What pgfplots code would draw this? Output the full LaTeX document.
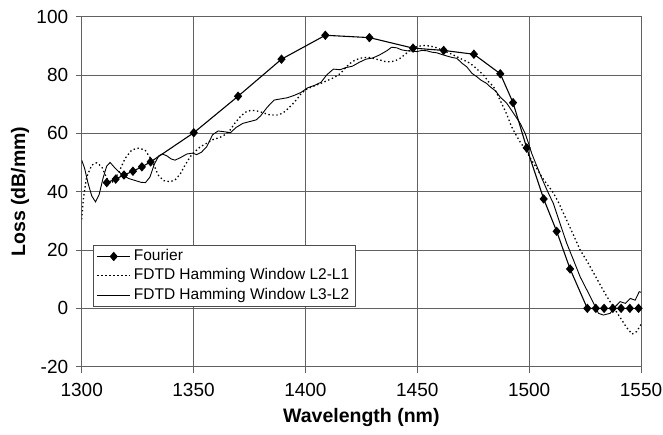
\documentclass[border=0pt]{standalone}
\usepackage{pgfplots}
\pgfplotsset{compat=1.18}
\usepackage{fontspec}
\setmainfont{Liberation Sans}
\begin{document}
\begin{tikzpicture}
\useasboundingbox (-81.7pt,-67.3pt) rectangle (581.3pt,366.7pt);
\begin{axis}[
  scale only axis,
  width=559.3pt, height=350.1pt,
  xmin=1300, xmax=1550, ymin=-20, ymax=100,
  xtick={1300,1350,...,1550}, ytick={-20,0,...,100},
  grid=major,
  major grid style={black!62, line width=0.8pt},
  axis line style={black!62, line width=0.8pt},
  tick style={black!62, line width=0.8pt},
  tick align=outside, major tick length=6pt,
  xtick pos=bottom, ytick pos=left,
  /pgf/number format/assume math mode=true,
  /pgf/number format/1000 sep={},
  ticklabel style={font=\fontsize{19}{22}\selectfont},
  xticklabel style={yshift=-7pt},
  yticklabel style={xshift=-4pt},
  xlabel={Wavelength (nm)}, ylabel={Loss (dB/mm)},
  xlabel style={font=\fontsize{19.5}{22}\selectfont\bfseries, at={(axis description cs:0.5,-0.1437)}, anchor=center},
  ylabel style={font=\fontsize{19.5}{22}\selectfont\bfseries, at={(axis description cs:-0.1103,0.5)}, anchor=center, rotate=0},
  legend cell align=left,
  legend style={at={(axis description cs:0.0207,0.171)}, anchor=south west,
    draw=black!70, fill=white, line width=0.6pt,
    font=\fontsize{15.5}{18}\selectfont, inner xsep=3pt, inner ysep=1.8pt,
    nodes={text height=11.7pt, text depth=3.6pt, inner xsep=3pt}},
  legend image code/.code={\draw[mark repeat=2,mark phase=2,#1] plot coordinates {(0pt,0pt) (16.5pt,0pt) (33pt,0pt)};},
]
\addplot[black, line width=1.1pt, mark=diamond*, mark size=3.9pt, mark options={solid, xscale=1.15}] coordinates {
(1311.2,43.1) (1315.2,44.3) (1318.9,45.7) (1322.9,47.0) (1326.9,48.5) (1330.8,50.2)
(1350.1,60.2) (1369.9,72.7) (1389.3,85.4) (1408.9,93.6) (1428.6,92.8) (1448.1,89.2)
(1461.8,88.4) (1475.3,87.1) (1487.1,80.4) (1492.8,70.5) (1498.9,55.0) (1506.5,37.5)
(1512.3,26.4) (1518.3,13.5) (1526.0,0) (1529.8,0) (1533.5,0) (1537.4,0) (1541.1,0)
(1545.0,0) (1548.9,0)
};
\addlegendentry{Fourier}
\addplot[black, line width=1.3pt, dash pattern=on 1.4pt off 2.6pt] coordinates {
(1300,30.5) (1300.8,38) (1302.2,45) (1304.5,49.1) (1306.7,49.9) (1309,48.5)
(1311.2,44.6) (1313.4,42.9) (1316.4,46.3) (1319.4,51.4) (1322.4,54.3) (1325.3,54.9)
(1328.3,54.3) (1331.3,50.8) (1334.2,45.7) (1336.5,43.8) (1339.5,43.4) (1341.7,44)
(1344,46) (1346.5,49.5) (1349,52.5) (1351,54) (1353,55.4) (1355.9,56.6) (1358.5,57.8)
(1361.8,58.6) (1364,59.5) (1366.3,61.1) (1368.5,63.5) (1370.8,65.6) (1373,67.2)
(1375.3,67.8) (1377.5,67.8) (1379.7,67.4) (1382,66.8) (1384.2,66.3) (1387.9,66.3)
(1390,67) (1391.6,68) (1394,69.8) (1396.1,71.6) (1398,73.5) (1400.2,75) (1402.5,75.8)
(1405.1,76.6) (1407.5,77.3) (1409.5,78) (1412.5,79) (1415.5,80.4) (1418,82.5)
(1420,84) (1422,85) (1424.4,85.7) (1426.5,86) (1428.9,86) (1431,85.5) (1433.4,85.1)
(1435.5,84.6) (1437.8,84.5) (1440,84.8) (1442.3,85.7) (1444.5,87) (1446.8,88.6)
(1449,89.5) (1451.2,89.9) (1453.5,90.1) (1455.7,89.9) (1458,89.5) (1460.2,88.8)
(1462.4,88.1) (1464.6,87.4) (1466.8,86.6) (1469.1,85.7) (1471.3,84.9) (1473.6,84)
(1476,82.5) (1478,81.1) (1479.6,80) (1481.8,77.7) (1484.1,76) (1487,71.4) (1490,66.5)
(1492,62.5) (1493.7,60) (1496,57) (1498,54.8) (1500.5,51.5) (1503,48.5) (1505.7,45)
(1508,42.5) (1510.5,40) (1513,36.5) (1516,31.5) (1519,26.5) (1522.8,20) (1526,16)
(1530,10.5) (1534,5) (1538,0) (1541,-3.5) (1543.5,-6.5) (1546,-8.8) (1548,-8)
(1549.5,-6.2) (1550,-5.5)
};
\addlegendentry{FDTD Hamming Window L2-L1}
\addplot[black, line width=0.9pt] coordinates {
(1300,50.8) (1301.3,48) (1302.8,43) (1304.5,38.5) (1306.2,36.5) (1307.8,39)
(1309.5,44.5) (1311.2,48.8) (1312.7,50) (1315,48) (1318,45.8) (1321,44.5)
(1324,43.8) (1326.5,43.2) (1328.5,43.1) (1330.5,45) (1332.5,49.5) (1334.5,52.3)
(1336,52.9) (1338,52.3) (1340,51.2) (1341.7,50.8) (1344,51.6) (1347,52.9)
(1349.5,53.2) (1351.4,52.7) (1353.5,53.5) (1355.9,55.4) (1358.5,59.5) (1361,60.8)
(1364,60.5) (1366.5,60.2) (1369,62) (1372,63.4) (1375,64) (1378,64.6) (1380,66)
(1383,69) (1386,71.4) (1389,71.8) (1392,72.2) (1395,73) (1398,74) (1401,75.6)
(1404,76.4) (1407,77.5) (1409.5,80) (1412.5,82) (1415.5,81.8) (1418,82.5) (1421,83)
(1424,84.3) (1427,85.4) (1430,85.8) (1433,86.8) (1436.4,88.3) (1438.5,89.5)
(1440.8,89.3) (1443,88.6) (1445.3,88.3) (1447.5,88.2) (1449.8,88) (1452,88.4)
(1454.2,88.3) (1456.5,87.8) (1458.7,87.6) (1461,87) (1463.2,86.5) (1465.5,86)
(1467.7,85.7) (1470,84) (1472.1,82.8) (1474.5,80.5) (1476.6,79.4) (1478.5,78.2)
(1481,77.1) (1482.5,76) (1485,74.5) (1487,72.5) (1490,70.3) (1493,66.9) (1496,63.4)
(1498.2,60) (1499.7,56.6) (1501.2,53) (1503.4,48.8) (1505.7,44.5) (1508.3,40)
(1510.8,36) (1513.8,29.1) (1516.8,22.3) (1519.8,16.6) (1522.8,10.8) (1525.8,6.3)
(1528.8,1.7) (1531,-1.7) (1533.2,-2.3) (1536.2,-1.7) (1538.5,0.6) (1540.7,2.3)
(1543,1.7) (1545.2,3.4) (1547.4,2.8) (1549.2,5.7) (1550,5.5)
};
\addlegendentry{FDTD Hamming Window L3-L2}
\end{axis}
\end{tikzpicture}
\end{document}
